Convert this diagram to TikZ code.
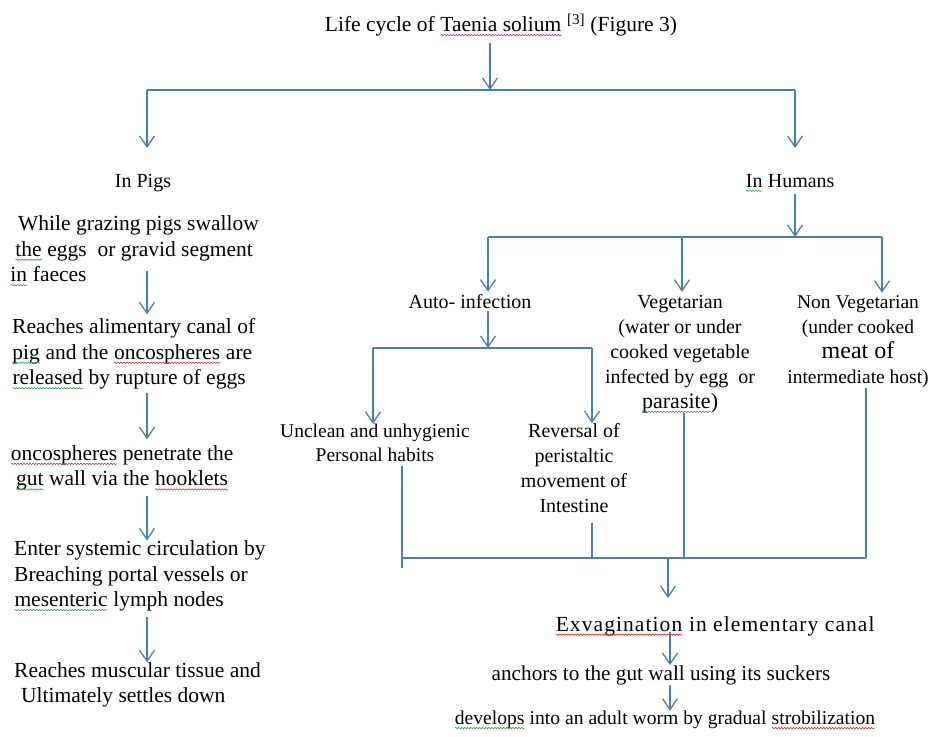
\documentclass[tikz,border=0pt]{standalone}
\usepackage{fontspec}
\setmainfont{Liberation Serif}
\usetikzlibrary{arrows.meta,decorations.pathmorphing}
\definecolor{lnblue}{RGB}{74,126,187}
\definecolor{spellred}{RGB}{225,40,40}
\definecolor{spellgreen}{RGB}{50,160,70}
\newcommand\wavyword[2]{\tikz[baseline=(w.base)]{\node[inner sep=0pt,outer sep=0pt,anchor=base,text=black](w){#2};\draw[#1,line width=0.6pt,decorate,decoration={snake,amplitude=0.7pt,segment length=3pt}] ([yshift=-3.5pt]w.base west) -- ([yshift=-3.5pt]w.base east);}}
\newcommand\redw[1]{\wavyword{spellred}{#1}}
\newcommand\grnw[1]{\wavyword{spellgreen}{#1}}
\tikzset{
  txt/.style={inner sep=0pt, font=\fontsize{20}{25}\selectfont, align=center},
  big/.style={font=\fontsize{21.5}{25.5}\selectfont},
  ln/.style={draw=lnblue, line width=1.3pt},
  arr/.style={ln, -{Straight Barb[length=11pt,width=15pt]}},
}
\begin{document}
\begin{tikzpicture}[x=1pt,y=-1pt]
\useasboundingbox (0,0) rectangle (944,736);
% text nodes
\node[txt, big] (title) at (501,25) {Life cycle of \redw{Taenia solium} \textsuperscript{[3]} (Figure 3)};
\node[txt] (pigs) at (143,183) {In Pigs};
\node[txt] (humans) at (790,183) {\grnw{In} Humans};
\node[txt, big, align=left, anchor=west] (p1) at (10,251) {\hspace*{8pt}While grazing pigs swallow\\\hspace*{5pt}\grnw{the} eggs\ \ or gravid segment\\\grnw{in} faeces};
\node[txt, big, align=left, anchor=west] (p2) at (12,354) {Reaches alimentary canal of\\\grnw{pig} and the \redw{oncospheres} are\\\grnw{released} by rupture of eggs};
\node[txt, big] (p3) at (122,468) {\redw{oncospheres} penetrate the\\\grnw{gut} wall via the \redw{hooklets}};
\node[txt, big, align=left, anchor=west] (p4) at (14,576) {Enter systemic circulation by\\Breaching portal vessels or\\\grnw{mesenteric} lymph nodes};
\node[txt, big, align=left, anchor=west] (p5) at (14,685) {Reaches muscular tissue and\\\hspace*{7pt}Ultimately settles down};
\node[txt] (auto) at (470,302) {Auto- infection};
\node[txt] (veg) at (680,354) {Vegetarian\\(water or under\\cooked vegetable\\infected by egg\ \ or\\{\fontsize{22}{25}\selectfont\grnw{parasite})}};
\node[txt, font=\fontsize{19.5}{25}\selectfont] (nonveg) at (858,342) {Non Vegetarian\\(under cooked\\{\fontsize{24}{25}\selectfont meat of}\\intermediate host)};
\node[txt, font=\fontsize{19.5}{24}\selectfont] (unclean) at (375,443) {Unclean and unhygienic\\Personal habits};
\node[txt] (reversal) at (574,468) {Reversal of\\peristaltic\\movement of\\Intestine};
\node[txt, font=\fontsize{21.5}{25}\selectfont\addfontfeature{LetterSpace=5}] (exv) at (715,626) {\redw{Exvagination} in elementary canal};
\node[txt, font=\fontsize{21.2}{25}\selectfont] (anch) at (661,675) {anchors to the gut wall using its suckers};
\node[txt, font=\fontsize{19.6}{25}\selectfont] (dev) at (665,720) {\grnw{develops} into an adult worm by gradual \redw{strobilization}};
% junction coordinates
\coordinate (tj) at (490,90);
\coordinate (tl) at (147,90);
\coordinate (tr) at (795,90);
\coordinate (hj) at (795,237);
\coordinate (hl) at (488,237);
\coordinate (hm) at (682,237);
\coordinate (hr) at (882,237);
\coordinate (aj) at (488,348);
\coordinate (al) at (373,348);
\coordinate (ar) at (592,348);
\coordinate (b1) at (402,558);
\coordinate (b2) at (592,558);
\coordinate (b3) at (684,558);
\coordinate (b4) at (866,558);
\coordinate (bj) at (668,558);
\coordinate (pc) at (147,0);
\coordinate (ec) at (670,0);
% connectors: top
\draw[arr, shorten <=6pt] (title.south -| tj) -- (tj);
\draw[ln] (tl) -- (tr);
\draw[arr, shorten >=26pt] (tl) -- (pigs.north -| tl);
\draw[arr, shorten >=26pt] (tr) -- (humans.north -| tr);
% pigs column
\draw[arr, shorten <=-15pt, shorten >=4pt] (p1.south -| pc) -- (p2.north -| pc);
\draw[arr, shorten <=3pt, shorten >=6pt] (p2.south -| pc) -- (p3.north -| pc);
\draw[arr, shorten <=5pt] (p3.south -| pc) -- (p4.north -| pc);
\draw[arr, shorten <=6pt] (p4.south -| pc) -- (p5.north -| pc);
% humans
\draw[arr, shorten <=2pt] (humans.south -| hj) -- (hj);
\draw[ln] (hl) -- (hr);
\draw[arr, shorten >=3pt] (hl) -- (auto.north -| hl);
\draw[arr, shorten >=3pt] (hm) -- (veg.north -| hm);
\draw[arr, shorten >=3pt] (hr) -- (nonveg.north -| hr);
\draw[arr, shorten <=2pt] (auto.south -| aj) -- (aj);
\draw[ln] (al) -- (ar);
\draw[arr] (al) -- (unclean.north -| al);
\draw[arr] (ar) -- (reversal.north -| ar);
\draw[ln, shorten <=4pt, shorten >=-10pt] (unclean.south -| b1) -- (b1);
\draw[ln, shorten <=10pt] (reversal.south -| b2) -- (b2);
\draw[ln] (veg.south -| b3) -- (b3);
\draw[ln] (nonveg.south -| b4) -- (b4);
\draw[ln] (b1) -- (b4);
\draw[arr, shorten >=18pt] (bj) -- (exv.north -| bj);
\draw[arr, shorten <=-4pt] (exv.south -| ec) -- (anch.north -| ec);
\draw[arr] (anch.south -| ec) -- (dev.north -| ec);
\end{tikzpicture}
\end{document}
